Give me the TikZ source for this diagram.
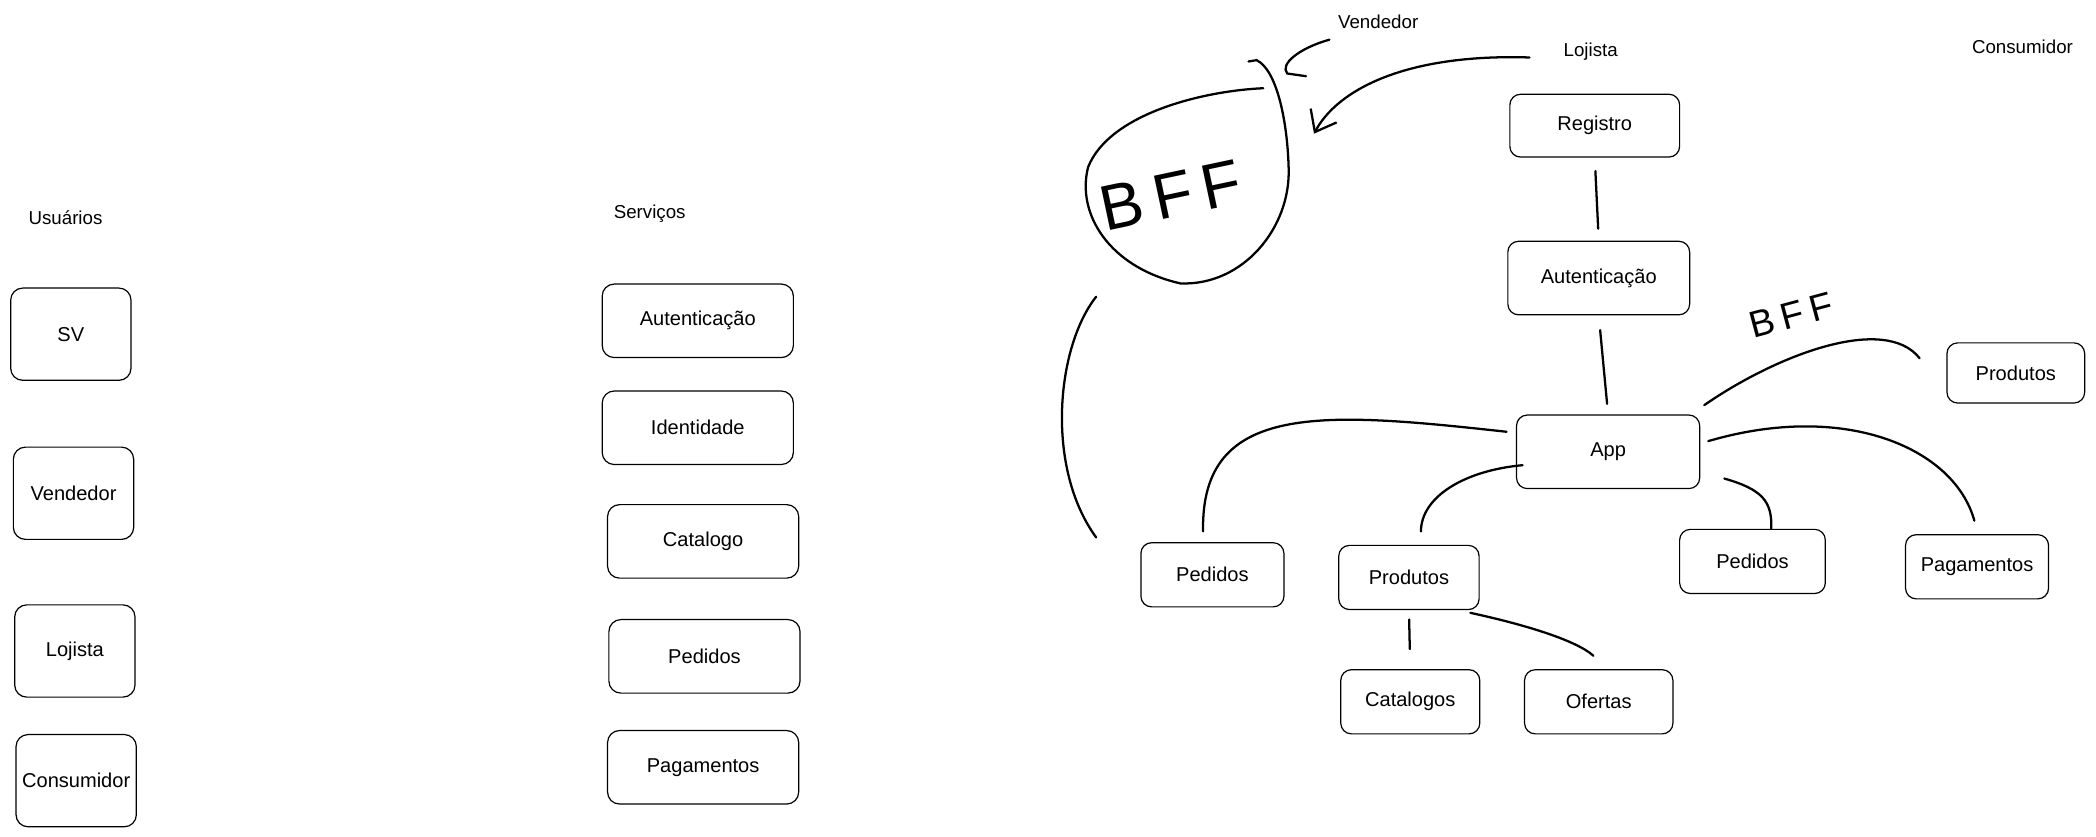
\documentclass[tikz,border=0pt]{standalone}
\usepackage{fontspec}
\setmainfont{Liberation Sans}
\usetikzlibrary{arrows.meta,calc}

\begin{document}
\begin{tikzpicture}[
  x=1pt,y=-1pt,
  every node/.style={font=\fontsize{15}{18}\selectfont,align=center},
  usr/.style={draw=black,line width=0.9pt,rounded corners=9pt,
    minimum width=90pt,minimum height=69pt},
  svc/.style={draw=black,line width=0.9pt,rounded corners=9pt,
    minimum width=143pt,minimum height=55pt},
  mod/.style={draw=black,line width=0.9pt,rounded corners=8pt,
    minimum width=107pt,minimum height=48pt},
  lbl/.style={font=\fontsize{14}{16}\selectfont},
  scrawl/.style={font=\fontsize{48}{48}\selectfont},
  link/.style={line width=1.7pt,line cap=round}
 ]
  \useasboundingbox (0,0) rectangle (1568,626);
  % usuarios
  \node[lbl] (usu) at (49,163) {Usuários};
  \node[usr] (sv) at (53,250) {SV};
  \node[usr] (vend) at (55,369) {Vendedor};
  \node[usr] (loja) at (56,487) {Lojista};
  \node[usr] (cons) at (57,584) {Consumidor};
  % servicos
  \node[lbl] (serv) at (486,160) {Serviços};
  \node[svc] (sauth) at (522,240) {Autenticação};
  \node[svc] (sid) at (522,320) {Identidade};
  \node[svc] (scat) at (526,405) {Catalogo};
  \node[svc] (sped) at (527,491) {Pedidos};
  \node[svc] (spag) at (526,574) {Pagamentos};
  % fluxo
  \node[lbl] (vnd) at (1031,16) {Vendedor};
  \node[lbl] (loj) at (1190,39) {Lojista};
  \node[lbl] (csm) at (1513,35) {Consumidor};
  \node[mod,minimum width=127pt,minimum height=47pt] (reg) at (1193,94) {Registro};
  \node[mod,minimum width=136pt,minimum height=55pt] (auth) at (1196,208) {Autenticação};
  \node[mod,minimum width=137pt,minimum height=55pt] (app) at (1203,338) {App};
  \node[mod,minimum width=103pt,minimum height=45pt] (prod2) at (1508,279) {Produtos};
  \node[mod] (ped1) at (907,430) {Pedidos};
  \node[mod,minimum width=105pt] (prod1) at (1054,432) {Produtos};
  \node[mod,minimum width=109pt] (ped2) at (1311,420) {Pedidos};
  \node[mod] (pag) at (1479,424) {Pagamentos};
  \node[mod,minimum width=104pt] (cat) at (1055,525) {Catalogos};
  \node[mod,minimum width=111pt] (ofe) at (1196,525) {Ofertas};
  % bff
  \node[scrawl,rotate=12] (bff) at (876,146) {B\hspace{8pt}F\hspace{8pt}F};
  \node[scrawl,font=\fontsize{28}{28}\selectfont,rotate=15] (bff2) at (1340,236)
    {B\hspace{5pt}F\hspace{5pt}F};
  \draw[link] (945,66) .. controls (900,68) and (830,85) .. (814,125)
    .. controls (805,160) and (830,200) .. (883,212)
    .. controls (930,214) and (966,170) .. (964,125)
    .. controls (963,90) and (955,52) .. (940,45) -- (934,46);
  \coordinate (bffout) at (820,222);
  \coordinate (bffend) at (820,402);
  \coordinate (vndtip) at (977,57);
  \coordinate (lojtip) at (983,100);
  \draw[link] (bffout) .. controls (790,260) and (782,350) .. (bffend);
  \draw[link] ($(vnd.south west)+(-3,5)$) .. controls (972,36) and (957,48)
    .. (963,55) -- (vndtip);
  \draw[link,-{Straight Barb[length=14pt,width=22pt]}] ($(loj.west)+(-22,4)$)
    .. controls (1050,40) and (1000,68) .. (lojtip);
  % ligacoes
  \draw[link,shorten <=10pt,shorten >=9pt] (reg.south) -- (auth.north);
  \draw[link,shorten <=11pt,shorten >=8pt] (auth.south) -- (app.north);
  \draw[link] ($(app.west)+(-7,-15)$) .. controls (990,308) and (898,300)
    .. ($(ped1.north)+(-7,-8)$);
  \draw[link] ($(app.west)+(5,10)$) .. controls (1095,352) and (1063,372)
    .. ($(prod1.north)+(9,-10)$);
  \draw[link] ($(app.east)+(18,20)$) .. controls (1318,366) and (1326,375)
    .. ($(ped2.north)+(14,0)$);
  \draw[link] ($(app.east)+(6,-8)$) .. controls (1380,300) and (1462,335)
    .. ($(pag.north)+(-2,-10)$);
  \draw[link] ($(app.north east)+(3,-7)$) .. controls (1330,265) and (1410,235)
    .. ($(prod2.west)+(-20,-11)$);
  \draw[link,shorten <=7pt,shorten >=15pt] (prod1.south) -- (cat.north);
  \draw[link] ($(prod1.south east)+(-7,2)$) .. controls (1135,466) and (1178,478)
    .. ($(ofe.north)+(-4,-10)$);
\end{tikzpicture}
\end{document}
